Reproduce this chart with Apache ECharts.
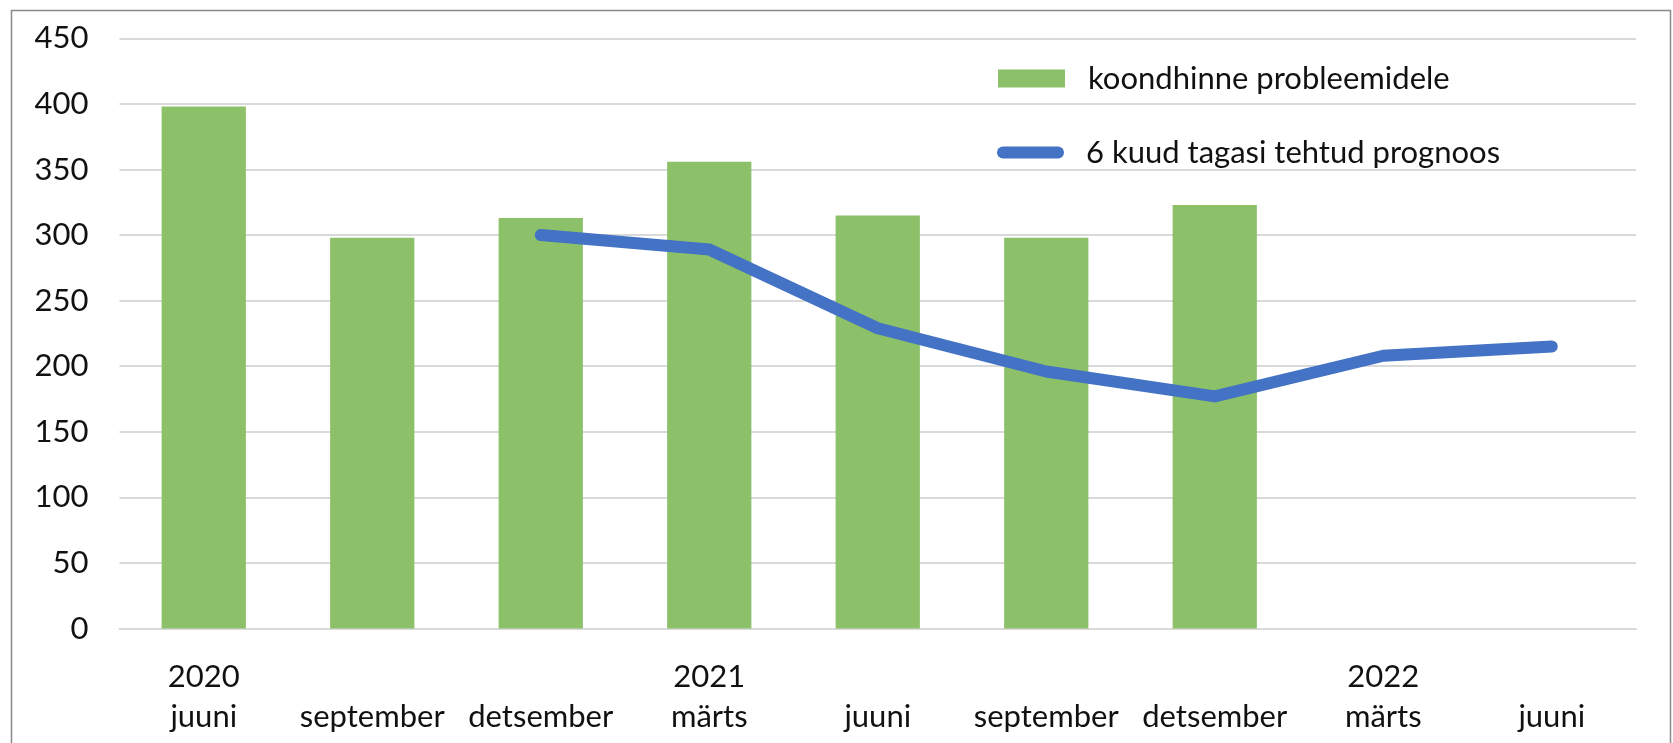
<!DOCTYPE html>
<html>
<head>
<meta charset="utf-8">
<script src="https://cdn.jsdelivr.net/npm/echarts@6/dist/echarts.min.js"></script>
<style>html,body{margin:0;padding:0;background:#fff;}#c{width:1673px;height:743px;}</style>
</head>
<body>
<div id="c"></div>
<script>
const categories = ['2020\njuuni', '\nseptember', '\ndetsember', '2021\nmärts', '\njuuni', '\nseptember', '\ndetsember', '2022\nmärts', '\njuuni'];
const barName = 'koondhinne probleemidele';
const lineName = '6 kuud tagasi tehtud prognoos';
const barValues = [398, 298, 313, 356, 315, 298, 323, null, null];
const lineValues = [null, null, 300, 289, 229, 196, 177, 208, 215];
const yTicks = { min: 0, max: 450, interval: 50 };

const FONT = 'Lato';
const FS = 31;
const TXT = '#111';
const chart = echarts.init(document.getElementById('c'));
chart.setOption({
  animation: false,
  graphic: [{
    type: 'rect', left: 9, top: 8, silent: true,
    shape: { width: 1659, height: 780 },
    style: { fill: 'none', stroke: '#8a8a8a', lineWidth: 1.5 }
  }],
  grid: { left: 119.5, right: 37, top: 38.4, bottom: 114.5, containLabel: false },
  legend: [{
    data: [{ name: barName, icon: 'rect' }],
    left: 998, top: 63, padding: 0, itemWidth: 67, itemHeight: 18, orient: 'vertical',
    textStyle: { fontFamily: FONT, fontSize: FS, color: TXT, padding: [0, 0, 0, 18] }
  }, {
    data: [{ name: lineName, icon: 'path://M6,0 L61,0 A6,6 0 0 1 61,12 L6,12 A6,6 0 0 1 6,0 Z' }],
    left: 997, top: 137, padding: 0, itemWidth: 71, itemHeight: 12, orient: 'vertical',
    textStyle: { fontFamily: FONT, fontSize: FS, color: TXT, padding: [0, 0, 0, 15] }
  }],
  xAxis: {
    type: 'category', data: categories,
    axisLine: { show: true, lineStyle: { color: '#d9d9d9', width: 2 } },
    axisTick: { show: false },
    axisLabel: { interval: 0, fontFamily: FONT, fontSize: FS, color: TXT, lineHeight: 40, margin: 28, align: 'center' }
  },
  yAxis: {
    type: 'value', min: yTicks.min, max: yTicks.max, interval: yTicks.interval,
    axisLine: { show: false }, axisTick: { show: false },
    splitLine: { lineStyle: { color: '#d9d9d9', width: 2 } },
    axisLabel: { fontFamily: FONT, fontSize: FS, color: TXT, margin: 31 }
  },
  series: [{
    name: barName, type: 'bar', data: barValues, barCategoryGap: '50%',
    itemStyle: { color: '#8cc16a' }
  }, {
    name: lineName, type: 'line', data: lineValues, showSymbol: false, symbol: 'none',
    connectNulls: false, z: 5,
    lineStyle: { color: '#4472c4', width: 12, cap: 'round', join: 'round' },
    itemStyle: { color: '#4472c4' }
  }]
});
</script>
</body>
</html>
